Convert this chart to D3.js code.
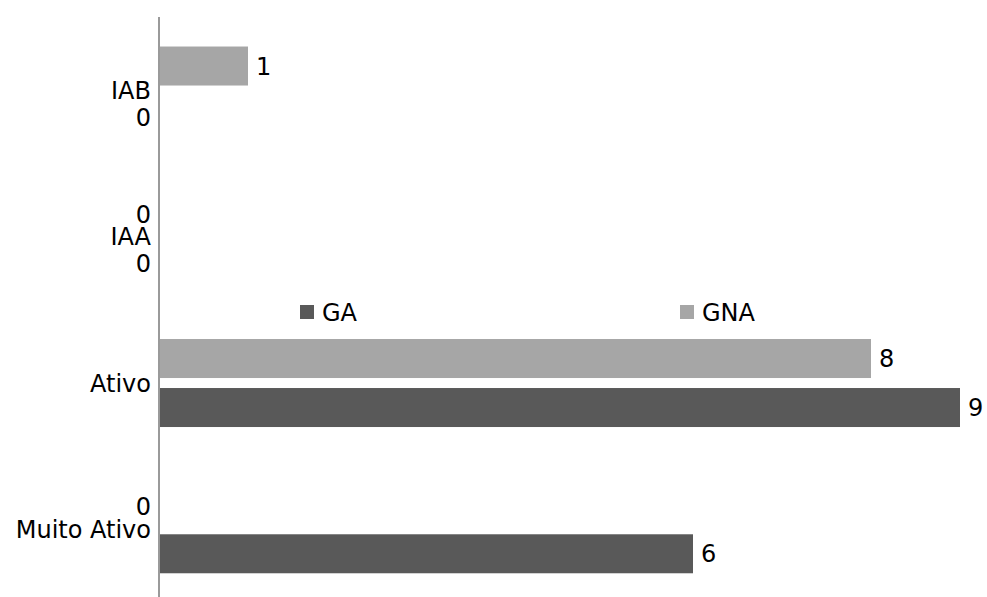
<!DOCTYPE html>
<html>
<head>
<meta charset="utf-8">
<script src="https://cdn.jsdelivr.net/npm/d3@7"></script>
<style>
  html, body { margin: 0; padding: 0; background: #fff; }
  svg { display: block; font-family: "DejaVu Sans", sans-serif; }
</style>
</head>
<body>
<svg id="chart" width="987" height="597"></svg>
<script>
// Activity level categories, top to bottom
const categories = ["IAB", "IAA", "Ativo", "Muito Ativo"];
// Series names and values per category
const seriesNames = ["GNA", "GA"];
const gnaValues = [1, 0, 8, 0];
const gaValues = [0, 0, 9, 6];
const legendOrder = ["GA", "GNA"];

const colors = { GA: "#595959", GNA: "#a6a6a6" };
const valuesBySeries = { GNA: gnaValues, GA: gaValues };

const svg = d3.select("#chart");
const fontSize = 24;

const x = d3.scaleLinear().domain([0, 9]).range([159, 960]);
const y = d3.scaleBand().domain(categories).range([17.4, 602.4]).padding(0);

// Inner band: two bars of ~39px with a 10px gap, centred in each category
const bw = y.bandwidth();
const inner = d3.scaleBand().domain(seriesNames).range([0, bw])
  .paddingInner(10 / 49)
  .paddingOuter(((bw / 49) - 2 + 10 / 49) / 2);

const rows = [];
categories.forEach((c, i) => {
  seriesNames.forEach(s => rows.push({ cat: c, series: s, value: valuesBySeries[s][i] }));
});

// Bars
svg.append("g").selectAll("rect")
  .data(rows.filter(d => d.value > 0))
  .join("rect")
  .attr("x", x(0) + 1)
  .attr("y", d => y(d.cat) + inner(d.series))
  .attr("width", d => x(d.value) - x(0) - 1)
  .attr("height", inner.bandwidth())
  .attr("fill", d => colors[d.series]);

// Value labels
svg.append("g").selectAll("text")
  .data(rows)
  .join("text")
  .attr("x", d => d.value > 0 ? x(d.value) + 8 : x(0) - 8)
  .attr("y", d => y(d.cat) + inner(d.series) + inner.bandwidth() / 2 + (d.value > 0 ? 0 : 2))
  .attr("dy", "0.36em")
  .attr("text-anchor", d => d.value > 0 ? "start" : "end")
  .attr("font-size", fontSize)
  .attr("fill", "#000")
  .text(d => d.value);

// Category axis
const axis = svg.append("g").attr("transform", `translate(${x(0)},0)`)
  .call(d3.axisLeft(y).tickSize(0).tickPadding(8));
axis.select(".domain").remove();
axis.selectAll("text")
  .attr("font-size", fontSize)
  .attr("font-family", "DejaVu Sans, sans-serif")
  .attr("fill", "#000")
  .attr("dy", "0.36em");

svg.append("line")
  .attr("x1", x(0)).attr("x2", x(0))
  .attr("y1", 17).attr("y2", 597)
  .attr("stroke", "#9a9a9a")
  .attr("stroke-width", 2);

// Legend
const legendX = d3.scalePoint().domain(legendOrder).range([300, 680]);
const legend = svg.append("g").selectAll("g")
  .data(legendOrder)
  .join("g")
  .attr("transform", d => `translate(${legendX(d)},312)`);
legend.append("rect")
  .attr("x", 0).attr("y", -7)
  .attr("width", 14).attr("height", 14)
  .attr("fill", d => colors[d]);
legend.append("text")
  .attr("x", 22).attr("dy", "0.36em")
  .attr("font-size", fontSize)
  .attr("fill", "#000")
  .text(d => d);
</script>
</body>
</html>
